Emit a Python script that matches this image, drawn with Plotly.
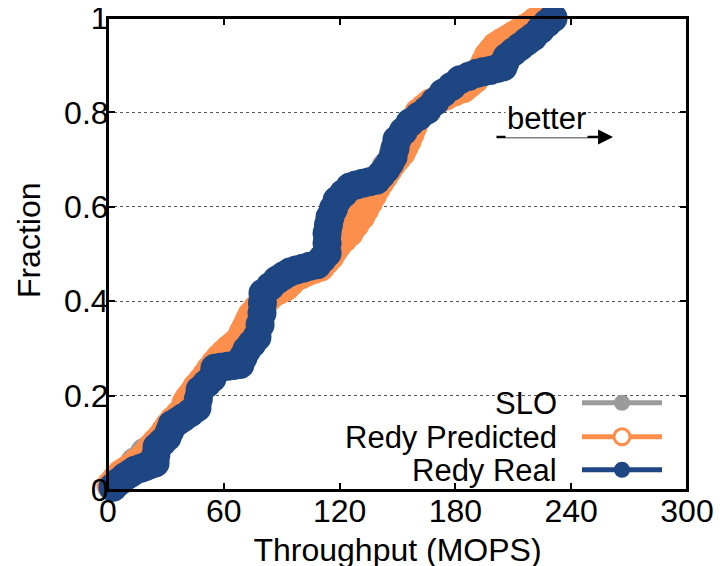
import plotly.graph_objects as go

# throughput CDF values (MOPS, fraction)
slo_x = [2.0, 8.0, 14.0, 19.0, 25.0, 30.0, 35.0, 41.0, 46.0, 51.0, 55.0, 62.0, 68.0, 73.0,
         77.0, 80.0, 85.0, 92.0, 100.0, 108.0, 113.0, 115.0, 118.0, 123.0, 130.0, 138.0,
         144.0, 148.0, 152.0, 158.0, 165.0, 173.0, 181.0, 189.0, 196.0, 203.0, 210.0,
         217.0, 223.0, 228.0]
slo_y = [0.008, 0.030, 0.060, 0.080, 0.100, 0.125, 0.150, 0.170, 0.200, 0.230, 0.255, 0.275,
         0.290, 0.315, 0.345, 0.390, 0.425, 0.450, 0.465, 0.475, 0.500, 0.540, 0.580, 0.615,
         0.640, 0.655, 0.685, 0.715, 0.750, 0.780, 0.805, 0.835, 0.860, 0.880, 0.895, 0.915,
         0.935, 0.955, 0.975, 1.000]

pred_x = [1.5, 4.0, 7.0, 10.0, 12.5, 15.0, 18.0, 20.5, 22.5, 25.0, 27.5, 29.5, 31.5, 34.0,
          37.0, 39.5, 40.5, 42.0, 44.0, 46.0, 48.5, 51.0, 53.0, 55.5, 58.0, 60.5, 63.0, 66.0,
          68.5, 70.0, 71.5, 73.0, 74.5, 77.0, 79.5, 82.5, 85.0, 88.5, 92.0, 94.5, 97.0, 100.0,
          103.0, 106.5, 110.0, 112.5, 115.0, 117.0, 119.0, 122.0, 125.0, 128.0, 131.0, 133.0,
          135.0, 137.0, 139.0, 141.0, 143.0, 145.0, 147.0, 149.5, 152.0, 153.5, 155.0, 156.5,
          158.0, 159.5, 161.0, 164.0, 167.0, 171.0, 175.0, 179.5, 184.0, 187.0, 190.0, 192.0,
          194.0, 195.5, 197.0, 199.0, 201.0, 204.0, 207.0, 210.0, 213.0, 216.0, 219.0, 221.5,
          224.0]
pred_y = [0.010, 0.022, 0.035, 0.043, 0.050, 0.059, 0.068, 0.079, 0.090, 0.101, 0.112, 0.123,
          0.135, 0.148, 0.160, 0.172, 0.185, 0.195, 0.205, 0.218, 0.230, 0.243, 0.255, 0.268,
          0.280, 0.290, 0.300, 0.310, 0.320, 0.333, 0.345, 0.358, 0.370, 0.383, 0.395, 0.405,
          0.415, 0.423, 0.430, 0.440, 0.450, 0.456, 0.462, 0.467, 0.472, 0.484, 0.495, 0.508,
          0.520, 0.533, 0.545, 0.563, 0.580, 0.595, 0.610, 0.625, 0.640, 0.653, 0.665, 0.678,
          0.690, 0.703, 0.715, 0.728, 0.740, 0.755, 0.770, 0.785, 0.800, 0.810, 0.820, 0.828,
          0.835, 0.843, 0.850, 0.860, 0.870, 0.883, 0.895, 0.908, 0.920, 0.930, 0.940, 0.948,
          0.955, 0.963, 0.970, 0.978, 0.985, 0.993, 1.000]

real_x = [2.6, 5.5, 8.8, 11.5, 14.0, 17.0, 19.5, 22.0, 24.4, 24.8, 25.4, 28.0, 30.6, 32.0,
          33.2, 36.0, 38.9, 42.5, 46.1, 46.8, 47.7, 51.0, 53.9, 55.4, 58.5, 62.0, 65.0, 68.4,
          70.0, 72.0, 74.5, 77.2, 78.8, 79.8, 80.0, 80.3, 84.0, 87.6, 91.0, 94.3, 97.5, 101.0,
          104.5, 108.3, 111.0, 113.5, 113.5, 113.5, 114.2, 115.0, 116.8, 118.7, 122.0, 125.4,
          128.5, 132.0, 135.5, 139.0, 141.5, 144.0, 146.0, 147.7, 148.7, 149.7, 153.0, 156.5,
          161.0, 165.3, 169.5, 173.6, 178.0, 182.4, 186.8, 191.2, 194.5, 198.0, 201.5, 204.7,
          205.7, 206.7, 210.0, 213.5, 217.0, 220.2, 224.0, 227.5, 230.6]
real_y = [0.006, 0.017, 0.028, 0.035, 0.042, 0.046, 0.050, 0.054, 0.057, 0.074, 0.091, 0.101,
          0.112, 0.125, 0.138, 0.145, 0.153, 0.163, 0.174, 0.193, 0.212, 0.225, 0.237, 0.258,
          0.260, 0.262, 0.264, 0.266, 0.281, 0.297, 0.310, 0.324, 0.350, 0.375, 0.396, 0.417,
          0.431, 0.445, 0.454, 0.462, 0.466, 0.470, 0.474, 0.477, 0.490, 0.502, 0.523, 0.544,
          0.561, 0.578, 0.596, 0.614, 0.628, 0.642, 0.646, 0.650, 0.653, 0.656, 0.668, 0.680,
          0.693, 0.706, 0.724, 0.742, 0.760, 0.778, 0.792, 0.805, 0.823, 0.841, 0.855, 0.869,
          0.876, 0.883, 0.886, 0.889, 0.893, 0.896, 0.907, 0.917, 0.928, 0.939, 0.950, 0.960,
          0.975, 0.989, 1.000]

series_names = ["SLO", "Redy Predicted", "Redy Real"]
x_ticks = [0, 60, 120, 180, 240, 300]
y_ticks = [0, 0.2, 0.4, 0.6, 0.8, 1]

gray = "#9b9b9b"
orange = "#fd8f4c"
blue = "#1d4682"
font = "Liberation Sans, Arial, sans-serif"

fig = go.Figure()

# the curves themselves (legend samples added separately below)
fig.add_trace(go.Scatter(x=slo_x, y=slo_y, mode="lines+markers", showlegend=False, cliponaxis=False,
                         line=dict(color=gray, width=5),
                         marker=dict(symbol="circle", size=29, color=gray)))
fig.add_trace(go.Scatter(x=pred_x, y=pred_y, mode="lines+markers", showlegend=False, cliponaxis=False,
                         line=dict(color=orange, width=5),
                         marker=dict(symbol="circle", size=29, color=orange)))
fig.add_trace(go.Scatter(x=real_x, y=real_y, mode="lines+markers", showlegend=False, cliponaxis=False,
                         line=dict(color=blue, width=5),
                         marker=dict(symbol="circle", size=29, color=blue)))

# key: one small legend per row, names written on the left like gnuplot does
styles = [
    dict(symbol="circle", color=gray),
    dict(symbol="circle", color="white", line=dict(width=3, color=orange)),
    dict(symbol="circle", color=blue),
]
line_cols = [gray, orange, blue]
rows = [0.184, 0.112, 0.042]
legend_ids = ["legend", "legend2", "legend3"]
for i in range(3):
    fig.add_trace(go.Scatter(x=[None], y=[None], mode="lines+markers", name="",
                             legend=legend_ids[i],
                             line=dict(color=line_cols[i], width=5),
                             marker=dict(size=16, **styles[i])))
    fig.add_annotation(x=0.779, y=rows[i], xref="paper", yref="paper", text=series_names[i],
                       showarrow=False, xanchor="right", yanchor="middle",
                       font=dict(size=31, color="black"))
    fig.update_layout({legend_ids[i]: dict(x=0.810, y=rows[i], xanchor="left", yanchor="middle",
                                           bgcolor="rgba(0,0,0,0)", itemwidth=80,
                                           font=dict(size=24))})

# white box behind the key so the 0.2 grid line stops there
fig.add_shape(type="rect", xref="paper", yref="paper", x0=0.34, x1=0.99, y0=0.01, y1=0.233,
              fillcolor="white", line=dict(width=0), layer="between")
# plot frame drawn over the points (gnuplot border)
fig.add_shape(type="rect", xref="paper", yref="paper", x0=0, x1=1, y0=0, y1=1,
              line=dict(color="black", width=2), layer="above")

# "better" arrow
fig.add_annotation(x=261.7, y=0.748, ax=200.5, ay=0.748, axref="x", ayref="y", text="",
                   showarrow=True, arrowhead=2, arrowsize=1.2, arrowwidth=2.5, arrowcolor="black")
fig.add_annotation(x=227.2, y=0.788, text="better", showarrow=False, bgcolor="white",
                   font=dict(size=31, color="black"))

# y title a bit above the middle, as in the original
fig.add_annotation(x=-0.136, y=0.53, xref="paper", yref="paper", text="Fraction", textangle=-90,
                   showarrow=False, xanchor="center", yanchor="middle", font=dict(size=32))

# page body has an 8px margin, so margins are shifted to keep the frame in place
fig.update_layout(
    width=723, height=566,
    margin=dict(l=100, r=44, t=10, b=84, autoexpand=False),
    plot_bgcolor="white", paper_bgcolor="white",
    font=dict(family=font, size=31, color="black"),
    showlegend=True,
)
fig.update_xaxes(range=[0, 300], tickvals=x_ticks, ticks="inside", ticklen=7, tickwidth=1.5,
                 tickcolor="black", showline=True, linewidth=2, linecolor="black", mirror="ticks",
                 showgrid=False, zeroline=False, automargin=False, tickfont=dict(size=32),
                 ticklabelstandoff=-8, ticklabeloverflow="allow",
                 title=dict(text="Throughput (MOPS)", standoff=10, font=dict(size=32)))
fig.update_yaxes(range=[0, 1], tickvals=y_ticks, ticks="inside", ticklen=7, tickwidth=1.5,
                 tickcolor="black", showline=True, linewidth=2, linecolor="black", mirror="ticks",
                 showgrid=True, gridcolor="#555555", griddash="dot", gridwidth=1, zeroline=False,
                 automargin=False, tickfont=dict(size=32), ticklabelstandoff=-9,
                 ticklabeloverflow="allow")

fig.write_html("out.html")
